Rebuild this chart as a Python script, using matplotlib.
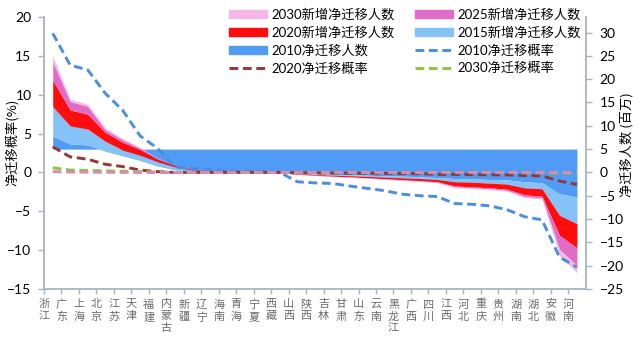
import numpy as np
import matplotlib
matplotlib.use('Agg')
import matplotlib.pyplot as plt
from matplotlib.patches import Patch
from matplotlib.lines import Line2D

plt.rcParams['font.family'] = ['Lato', 'Noto Sans CJK SC', 'DejaVu Sans']

# provinces, sorted by 2010 net migration rate
provinces = ['浙江', '广东', '上海', '北京', '江苏', '天津', '福建', '内蒙古', '新疆', '辽宁',
             '海南', '青海', '宁夏', '西藏', '山西', '陕西', '吉林', '甘肃', '山东', '云南',
             '黑龙江', '广西', '四川', '江西', '河北', '重庆', '贵州', '湖南', '湖北', '安徽', '河南']

# net migrants (millions, right axis)
net_2010 = [7.8, 6.1, 5.9, 4.6, 3.6, 2.6, 1.4, 0.6, 0.3, 0.2, 0.1, 0.05, 0.05, 0.0, -0.2, -0.3,
            -0.4, -0.5, -0.6, -0.7, -0.8, -0.9, -1.1, -1.3, -1.4, -1.5, -1.6, -2.0, -2.2, -4.6, -5.3]
new_2015 = [6.3, 3.85, 3.4, 2.1, 1.2, 1.1, 0.9, 0.6, 0.2, 0.1, 0.05, 0.05, 0.0, 0.0, -0.1, -0.15,
            -0.2, -0.2, -0.25, -0.3, -0.35, -0.4, -0.4, -0.7, -0.7, -0.8, -0.9, -1.3, -1.3, -4.6, -5.7]
new_2020 = [5.7, 3.45, 3.2, 1.9, 1.7, 1.2, 0.55, 0.35, 0.1, 0.05, 0.05, 0.02, 0.01, 0.0, -0.1, -0.15,
            -0.2, -0.25, -0.3, -0.35, -0.4, -0.45, -0.5, -0.9, -1.0, -1.0, -1.1, -1.5, -1.6, -4.3, -5.2]
new_2025 = [3.95, 1.8, 1.7, 0.6, 0.5, 0.3, 0.15, 0.05, 0.02, 0.01, 0.0, 0.0, 0.0, 0.0, -0.02, -0.03,
            -0.05, -0.05, -0.05, -0.07, -0.1, -0.1, -0.1, -0.2, -0.2, -0.2, -0.25, -0.4, -0.4, -3.0, -3.8]
new_2030 = [1.25, 0.5, 0.4, 0.4, 0.3, 0.2, 0.1, 0.05, 0.02, 0.01, 0.0, 0.0, 0.0, 0.0, -0.02, -0.03,
            -0.05, -0.05, -0.05, -0.06, -0.07, -0.1, -0.1, -0.15, -0.15, -0.15, -0.15, -0.2, -0.2, -1.3, -1.5]

# net migration rate (%, left axis)
rate_2010 = [17.9, 13.8, 13.2, 10.2, 8.0, 4.7, 3.1, 0.7, 0.5, 0.35, 0.2, 0.15, 0.1, 0.0, -1.2, -1.35,
             -1.42, -1.75, -2.05, -2.35, -2.8, -3.0, -3.1, -4.0, -4.1, -4.3, -4.8, -5.7, -6.1, -10.9, -12.2]
rate_2020 = [3.3, 2.0, 1.7, 1.05, 0.75, 0.3, 0.1, 0.0, 0.0, 0.0, 0.0, 0.0, 0.0, 0.0, -0.05, -0.05,
             -0.08, -0.1, -0.1, -0.12, -0.15, -0.15, -0.25, -0.25, -0.28, -0.3, -0.32, -0.4, -0.45, -1.1, -1.55]
rate_2030 = [0.6, 0.3, 0.25, 0.2, 0.15, 0.1, 0.05, 0.0, 0.0, 0.0, 0.0, 0.0, 0.0, 0.0, 0.0, 0.0,
             0.0, 0.0, 0.0, 0.0, 0.0, 0.0, 0.0, 0.0, 0.0, 0.0, 0.0, -0.05, -0.05, -0.1, -0.1]
rate_other = [0.1, 0.05, 0.03, 0.02, 0.01, 0.0, 0.0, 0.0, 0.0, 0.0, 0.0, 0.0, 0.0, 0.0, 0.0, 0.0,
              0.0, 0.0, 0.0, 0.0, 0.0, 0.0, 0.0, 0.0, 0.0, 0.0, 0.0, 0.0, 0.0, 0.0, 0.0]

AREA_BASE = 5  # excel fills the first area down to the secondary axis crossing

c_2030 = '#F4B8E8'
c_2025 = '#E06CC8'
c_2020 = '#FF0D0D'
c_2015 = '#85C2F7'
c_2010 = '#4F9BF5'
c_r2010 = '#4A8EE0'
c_r2020 = '#953735'
c_r2030 = '#8CC43F'
c_other = '#D98AAE'
spine_c = '#A7B5BD'
cjk = ['Noto Sans CJK SC']

x = np.arange(len(provinces))

fig = plt.figure(figsize=(6.38, 3.37), dpi=100)
ax = fig.add_axes([44 / 638, 48 / 337, (585.7 - 44) / 638, (289 - 17) / 337])
ax2 = ax.twinx()

# stacked areas (right axis)
stack = np.cumsum(np.array([net_2010, new_2015, new_2020, new_2025, new_2030]), axis=0)
ax2.fill_between(x, AREA_BASE, stack[0], color=c_2010, lw=0)
for lo, hi, c in zip(stack[:-1], stack[1:], [c_2015, c_2020, c_2025, c_2030]):
    ax2.fill_between(x, lo, hi, color=c, lw=0)

# rate lines (left axis), drawn above the areas
ax.set_zorder(ax2.get_zorder() + 1)
ax.patch.set_visible(False)
dash = (3, 1.6)
ax.plot(x, rate_2010, color=c_r2010, lw=2.1, dashes=dash)
ax.plot(x, rate_2020, color=c_r2020, lw=2.1, dashes=dash)
ax.plot(x, rate_2030, color=c_r2030, lw=2.1, dashes=dash)
ax.plot(x, rate_other, color=c_other, lw=2.1, dashes=dash)

ax.set_xlim(-0.5, len(provinces) - 0.5)
ax.set_ylim(-15, 20)
ax.set_yticks(np.arange(-15, 21, 5))
ax2.set_ylim(-25, 100 / 3)
ax2.set_yticks(np.arange(-25, 31, 5))

ax.set_xticks(x - 0.5)
ax.set_xticklabels(['\n'.join(p) for p in provinces], color='#6A6A6A', fontsize=8,
                   family=cjk, linespacing=1.25, va='top')

for a in (ax, ax2):
    for s in a.spines.values():
        s.set_color(spine_c)
        s.set_linewidth(1.3)
    a.spines['top'].set_visible(False)
ax.spines['right'].set_visible(False)
ax2.spines['left'].set_visible(False)
ax2.spines['bottom'].set_visible(False)

ax.tick_params(axis='y', length=4, width=1, color=spine_c, labelsize=10, pad=5)
ax.tick_params(axis='x', length=3.5, width=1, color=spine_c, pad=4)
ax2.tick_params(axis='y', length=4, width=1, color=spine_c, labelsize=10, pad=6)

fig.text(12 / 638, 1 - 142 / 337, '净迁移概率(%)', rotation=90, ha='center', va='center',
         fontsize=9.5, family=cjk)
fig.text(627 / 638, 1 - 145 / 337, '净迁移人数 (百万)', rotation=90, ha='center', va='center',
         fontsize=9.5, family=cjk)

handles = [
    Patch(color=c_2030, label='2030新增净迁移人数'),
    Patch(color=c_2020, label='2020新增净迁移人数'),
    Patch(color=c_2010, label='2010净迁移人数'),
    Line2D([], [], color=c_r2020, lw=2.1, dashes=dash, label='2020净迁移概率'),
    Patch(color=c_2025, label='2025新增净迁移人数'),
    Patch(color=c_2015, label='2015新增净迁移人数'),
    Line2D([], [], color=c_r2010, lw=2.1, dashes=dash, label='2010净迁移概率'),
    Line2D([], [], color=c_r2030, lw=2.1, dashes=dash, label='2030净迁移概率'),
]
fig.legend(handles=handles, ncol=2, loc='upper left', bbox_to_anchor=(229 / 638, 1 - 8 / 337),
           frameon=False, fontsize=9.5, handlelength=2.9, handleheight=0.5, handletextpad=0.35,
           columnspacing=1.5, labelspacing=0.42, borderpad=0, borderaxespad=0)

fig.savefig('out.png', dpi=100)
